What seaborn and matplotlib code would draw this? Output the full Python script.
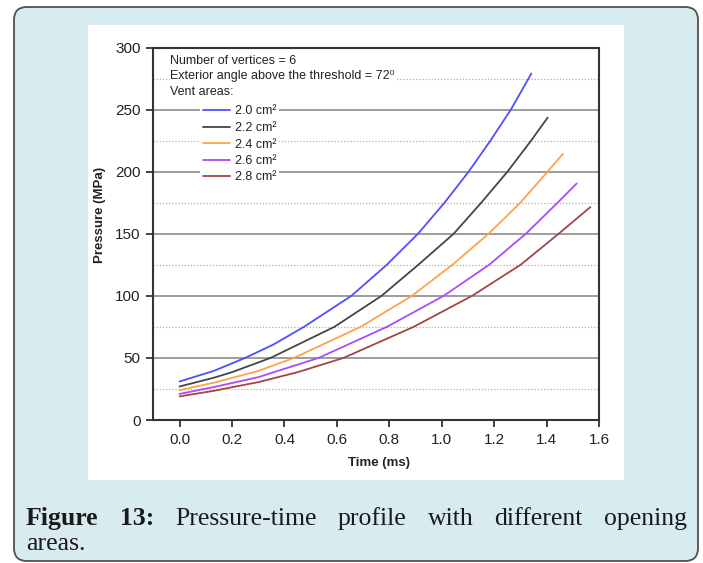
import numpy as np
import pandas as pd
import matplotlib
matplotlib.use("Agg")
import matplotlib.pyplot as plt
import seaborn as sns
from matplotlib.patches import FancyBboxPatch
from matplotlib.transforms import IdentityTransform

# values: time (ms) and pressure (MPa) per vent area
t_20 = [0.0, 0.13, 0.25, 0.36, 0.474, 0.655, 0.79, 0.909, 1.01, 1.102, 1.185, 1.263, 1.341]
p_20 = [31, 39.5, 50, 61, 75, 100, 125, 150, 175, 200, 225, 250, 279]

t_22 = [0.0, 0.13, 0.2, 0.347, 0.59, 0.77, 0.91, 1.045, 1.15, 1.25, 1.34, 1.403]
p_22 = [27, 34, 38.5, 50, 75, 100, 125, 150, 175, 200, 225, 243.5]

t_24 = [0.0, 0.13, 0.3, 0.436, 0.69, 0.886, 1.04, 1.178, 1.299, 1.403, 1.462]
p_24 = [24, 30, 39.5, 50, 75, 100, 125, 150, 175, 200, 214.5]

t_26 = [0.0, 0.13, 0.3, 0.53, 0.79, 1.007, 1.18, 1.32, 1.441, 1.514]
p_26 = [21, 26.5, 34.5, 50, 75, 100, 125, 150, 175, 190.5]

t_28 = [0.0, 0.13, 0.3, 0.45, 0.625, 0.892, 1.115, 1.30, 1.445, 1.566]
p_28 = [19, 23.5, 30.5, 38.5, 50, 75, 100, 125, 150, 171.5]

areas = ["2.0 cm²", "2.2 cm²", "2.4 cm²", "2.6 cm²", "2.8 cm²"]
colors = ["#4f4fff", "#454545", "#ffa24a", "#a64dff", "#a34545"]
x_ticks = [0.0, 0.2, 0.4, 0.6, 0.8, 1.0, 1.2, 1.4, 1.6]
y_ticks = [0, 50, 100, 150, 200, 250, 300]

frames = []
for a, t, p in zip(areas, [t_20, t_22, t_24, t_26, t_28], [p_20, p_22, p_24, p_26, p_28]):
    frames.append(pd.DataFrame({"time": t, "pressure": p, "area": a}))
df = pd.concat(frames, ignore_index=True)

sns.set_style("white")
plt.rcParams["font.family"] = ["Liberation Sans", "DejaVu Sans"]

W, H = 703, 563
fig = plt.figure(figsize=(W / 100, H / 100), dpi=100, facecolor="white")

# light blue rounded frame + white chart panel
frame = FancyBboxPatch((14, 2), 684, 554, boxstyle="round,pad=0,rounding_size=13",
                       transform=IdentityTransform(), facecolor="#d8ebf1",
                       edgecolor="#505050", linewidth=1.3, zorder=-2)
fig.patches.append(frame)
panel = plt.Rectangle((88 / W, 1 - 480 / H), 535.5 / W, 455 / H, transform=fig.transFigure,
                      facecolor="white", edgecolor="none", zorder=-1)
fig.patches.append(panel)

ax = fig.add_axes([153.3 / W, 1 - 420 / H, 446 / W, 372.5 / H])
ax.set_facecolor("white")

sns.lineplot(data=df, x="time", y="pressure", hue="area", palette=colors,
             sort=False, estimator=None, linewidth=1.3, legend=False, ax=ax)

ax.set_xlim(-0.1, 1.6)
ax.set_ylim(0, 300)
ax.set_xticks(x_ticks)
ax.set_xticklabels([f"{v:.1f}" for v in x_ticks])
ax.set_yticks(y_ticks)
ax.set_yticks(np.arange(25, 300, 50), minor=True)
ax.grid(axis="y", which="major", color="#8c8c8c", linewidth=1.2)
ax.grid(axis="y", which="minor", color="#b0b0b0", linewidth=0.9, linestyle=(0, (1, 1.5)))
ax.grid(axis="x", visible=False)
ax.set_axisbelow(True)

for s in ax.spines.values():
    s.set_color("#333333")
    s.set_linewidth(1.5)
ax.tick_params(axis="both", which="major", direction="out", length=5, width=1.3,
               color="#333333", labelcolor="#222222", labelsize=11, pad=4)
ax.tick_params(axis="y", which="minor", length=0)
ax.tick_params(bottom=True, left=True)

ax.set_xlabel("Time (ms)", fontsize=9.5, fontweight="bold", color="#222222")
ax.set_ylabel("Pressure (MPa)", fontsize=9.5, fontweight="bold", color="#222222")
ax.xaxis.set_label_coords(0.505, -0.1)
ax.yaxis.set_label_coords(-0.105, 0.55)

# legend block
hdr = dict(fontsize=9, color="#222222", va="center", ha="left",
           bbox=dict(facecolor="white", edgecolor="none", pad=0.6))
fig.text(170.5 / W, 1 - 60.5 / H, "Number of vertices = 6", **hdr)
fig.text(170.5 / W, 1 - 76 / H, "Exterior angle above the threshold = 72\u2070", **hdr)
fig.text(170.5 / W, 1 - 92 / H, "Vent areas:", **hdr)

handles = ax.lines[:5]
leg = ax.legend(handles, areas, loc="upper left", bbox_to_anchor=(200 / W, 1 - 103 / H),
                bbox_transform=fig.transFigure, fontsize=9, frameon=True,
                handlelength=2.2, handletextpad=0.4, labelspacing=0.36,
                borderpad=0.2, borderaxespad=0)
leg.get_frame().set_facecolor("white")
leg.get_frame().set_edgecolor("none")
leg.get_frame().set_alpha(1)
for txt in leg.get_texts():
    txt.set_color("#222222")

# caption, justified on the first line
fig.canvas.draw()
r = fig.canvas.get_renderer()
words = [("Figure", "bold"), ("13:", "bold"), ("Pressure-time", "normal"), ("profile", "normal"),
         ("with", "normal"), ("different", "normal"), ("opening", "normal")]
cap = dict(fontsize=18.5, family="Liberation Serif", color="#1a1a1a", va="baseline", ha="left")
arts = [fig.text(0, 1 - 525 / H, w, fontweight=wt, **cap) for w, wt in words]
widths = [a.get_window_extent(r).width for a in arts]
x0, x1 = 26, 687
gap = (x1 - x0 - sum(widths)) / (len(arts) - 1)
x = x0
for a, w in zip(arts, widths):
    a.set_x(x / W)
    x += w + gap
fig.text(26 / W, 1 - 550 / H, "areas.", **cap)

fig.savefig("out.png", dpi=100, facecolor="white")
